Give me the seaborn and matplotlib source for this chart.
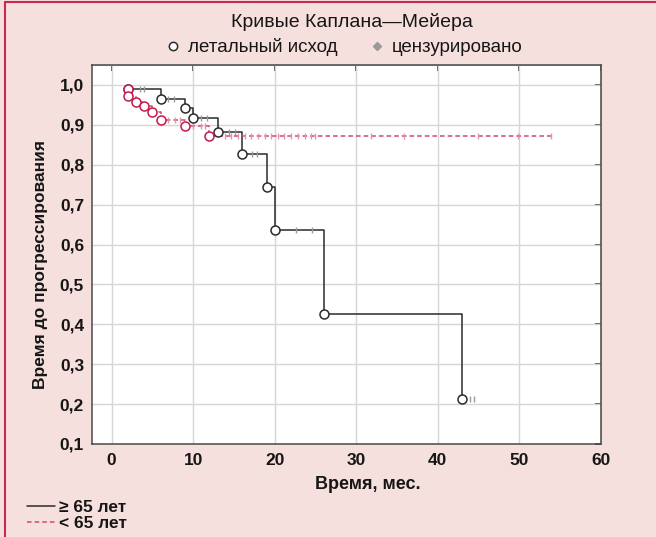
import matplotlib
matplotlib.use('Agg')
import matplotlib.pyplot as plt
from matplotlib.lines import Line2D
import pandas as pd
import seaborn as sns

# >= 65 years: deaths (circles) and censored cases
old_event_t = [2, 6, 9, 10, 13, 16, 19, 20, 26, 43]
old_event_s = [0.989, 0.965, 0.942, 0.918, 0.882, 0.826, 0.744, 0.637, 0.425, 0.214]
old_cens_t = [3.5, 4.0, 6.9, 7.6, 11.0, 11.7, 14.4, 15.1, 17.2, 17.8,
              22.6, 24.6, 44.0, 44.4]

# < 65 years
young_event_t = [2, 2, 3, 4, 5, 6, 9, 12]
young_event_s = [0.989, 0.971, 0.957, 0.946, 0.931, 0.913, 0.896, 0.871]
young_cens_t = [6.9, 7.8, 8.4, 10.0, 10.9, 11.5, 13.9, 14.7, 15.5, 16.3,
                17.1, 18.0, 18.8, 19.6, 20.4, 21.2, 22.0, 22.9, 23.7, 24.5,
                25.0, 31.8, 35.9, 45.0, 49.9, 53.9]
young_end_t = 53.9

x_ticks = [0, 10, 20, 30, 40, 50, 60]
y_ticks = [0.1, 0.2, 0.3, 0.4, 0.5, 0.6, 0.7, 0.8, 0.9, 1.0]

BLACK = '#2b2b2b'
RED = '#c41a4a'
RED_LINE = '#cf4a72'
BG = '#f6e0dd'
TXT = '#161616'


def surv_at(t, ev_t, ev_s):
    s = ev_s[0]
    for et, es in zip(ev_t, ev_s):
        if et <= t:
            s = es
    return s


old_cens_s = [surv_at(t, old_event_t, old_event_s) for t in old_cens_t]
young_cens_s = [surv_at(t, young_event_t, young_event_s) for t in young_cens_t]

old_path = pd.DataFrame({'t': old_event_t, 's': old_event_s})
young_path = pd.DataFrame({'t': young_event_t + [young_end_t],
                           's': young_event_s + [young_event_s[-1]]})

sns.set_style('whitegrid')
plt.rcParams['font.family'] = ['Liberation Sans', 'DejaVu Sans']

fig = plt.figure(figsize=(6.56, 5.37), dpi=100, facecolor=BG)
ax = fig.add_axes([0.1398, 0.1732, 0.7759, 0.7058])
ax.set_facecolor('white')

sns.lineplot(data=old_path, x='t', y='s', estimator=None, sort=False,
             drawstyle='steps-post', color=BLACK, linewidth=1.1, ax=ax, zorder=2)
sns.lineplot(data=young_path, x='t', y='s', estimator=None, sort=False,
             drawstyle='steps-post', color=RED_LINE, linewidth=1.1,
             linestyle=(0, (3, 2)), ax=ax, zorder=2)

sns.scatterplot(x=old_cens_t, y=old_cens_s, marker='|', s=22, color='#9a9a9a',
                linewidth=1.0, ax=ax, zorder=3)
sns.scatterplot(x=young_cens_t, y=young_cens_s, marker='|', s=22, color='#e394ad',
                linewidth=1.0, ax=ax, zorder=3)

sns.scatterplot(x=old_event_t, y=old_event_s, marker='o', s=42, facecolor='white',
                edgecolor=BLACK, linewidth=1.1, ax=ax, zorder=4)
sns.scatterplot(x=young_event_t, y=young_event_s, marker='o', s=42, facecolor='white',
                edgecolor=RED, linewidth=1.1, ax=ax, zorder=4)

ax.set_xlim(-2.45, 60)
ax.set_ylim(0.1, 1.05)
ax.set_xticks(x_ticks)
ax.set_yticks(y_ticks)
ax.set_xticklabels([str(v) for v in x_ticks])
ax.set_yticklabels([f'{v:.1f}'.replace('.', ',') for v in y_ticks])
ax.grid(True, color='#d6d6d6', linewidth=1.0)
ax.set_xlabel('')
ax.set_ylabel('')
for sp in ax.spines.values():
    sp.set_color('#4a4a4a')
    sp.set_linewidth(1.1)
ax.tick_params(axis='both', direction='out', length=4, width=1, color='#4a4a4a',
               labelsize=12.5, labelcolor=TXT)
ax.tick_params(axis='y', pad=1.5)
ax.tick_params(axis='x', pad=2.5)
for lab in ax.get_xticklabels() + ax.get_yticklabels():
    lab.set_fontweight('bold')

top = ax.secondary_xaxis('top')
top.set_xticks(x_ticks)
top.tick_params(direction='in', length=4, width=1.2, color='#333333', labeltop=False)
right = ax.secondary_yaxis('right')
right.set_yticks(y_ticks)
right.tick_params(direction='in', length=4, width=1.2, color='#333333', labelright=False)

fig.text(0.537, 0.959, 'Кривые Каплана—Мейера', ha='center', va='center',
         fontsize=14, color=TXT)
top_handles = [
    Line2D([], [], marker='o', ls='', markersize=6, mfc='white', mec=BLACK, mew=1.1),
    Line2D([], [], marker='D', ls='', markersize=4, mfc='#9a9a9a', mec='#9a9a9a'),
]
fig.legend(top_handles, ['летальный исход', 'цензурировано'], loc='center',
           bbox_to_anchor=(0.523, 0.912), ncol=2, frameon=False, fontsize=13.5,
           handletextpad=0.3, columnspacing=1.6, handlelength=1.0,
           labelcolor=TXT)

fig.text(0.56, 0.097, 'Время, мес.', ha='center', va='center', fontsize=13,
         fontweight='bold', color=TXT)
fig.text(0.061, 0.507, 'Время до прогрессирования', ha='center', va='center',
         rotation=90, fontsize=12.5, fontweight='bold', color=TXT)

bottom_handles = [
    Line2D([], [], color=BLACK, lw=1.1),
    Line2D([], [], color=RED_LINE, lw=1.1, ls=(0, (3, 2))),
]
fig.legend(bottom_handles, ['≥ 65 лет', '< 65 лет'], loc='lower left',
           bbox_to_anchor=(0.018, -0.018), frameon=False,
           handlelength=1.6, handletextpad=0.2, labelspacing=0.05,
           prop={'weight': 'bold', 'size': 12.5}, labelcolor=TXT)

fig.add_artist(Line2D([0.007, 0.007], [0, 0.997], transform=fig.transFigure,
                      color='#c8285a', lw=1.5))
fig.add_artist(Line2D([0.007, 1.0], [0.997, 0.997], transform=fig.transFigure,
                      color='#c8285a', lw=1.5))

fig.savefig('out.png', dpi=100, facecolor=BG)
